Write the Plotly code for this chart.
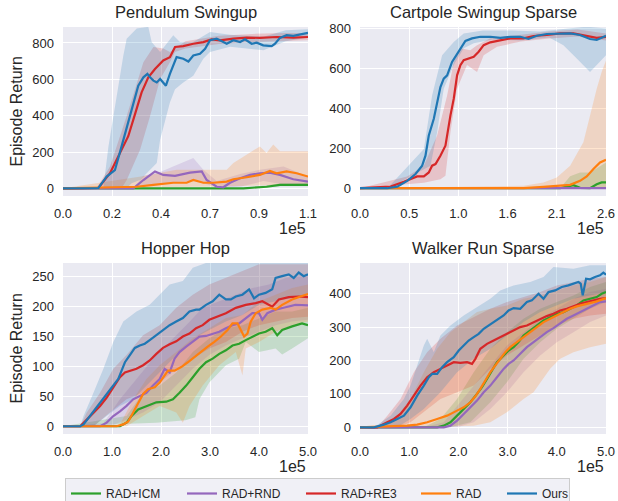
import plotly.graph_objects as go

# ---------------- data (x in units of 1e5 environment steps) ----------------
series_names = ["RAD+ICM", "RAD+RND", "RAD+RE3", "RAD", "Ours"]
series_colors = ["#2ca02c", "#9467bd", "#d62728", "#ff7f0e", "#1f77b4"]
band_colors = ["rgba(44,160,44,0.2)", "rgba(148,103,189,0.2)", "rgba(214,39,40,0.2)",
               "rgba(255,127,14,0.2)", "rgba(31,119,180,0.2)"]

panel_titles = ["Pendulum Swingup", "Cartpole Swingup Sparse", "Hopper Hop", "Walker Run Sparse"]

# tick labels
p1_xticks = [0, 0.22, 0.44, 0.66, 0.88, 1.1]
p1_xtext = ["0.0", "0.2", "0.4", "0.7", "0.9", "1.1"]
p2_xticks = [0, 0.52, 1.04, 1.56, 2.08, 2.6]
p2_xtext = ["0.0", "0.5", "1.0", "1.6", "2.1", "2.6"]
p34_xticks = [0, 1, 2, 3, 4, 5]
p34_xtext = ["0.0", "1.0", "2.0", "3.0", "4.0", "5.0"]
p1_yticks = [0, 200, 400, 600, 800]
p2_yticks = [0, 200, 400, 600, 800]
p3_yticks = [0, 50, 100, 150, 200, 250]
p4_yticks = [0, 100, 200, 300, 400]

# ---- Pendulum Swingup ----
pend_icm_x = [0, 0.81, 0.914, 0.974, 1.1]
pend_icm_y = [0, 0, 9, 19, 19]
pend_icm_hi_x = [0, 0.81, 0.914, 0.974, 1.1]
pend_icm_hi_y = [0, 4, 17, 27, 28]
pend_icm_lo_x = [0, 0.81, 0.914, 0.974, 1.1]
pend_icm_lo_y = [0, 0, 3, 12, 12]

pend_rnd_x = [0, 0.316, 0.361, 0.413, 0.450, 0.503, 0.570, 0.623, 0.645, 0.690, 0.720, 0.750, 0.795, 0.840, 0.884, 0.929, 0.974, 1.034, 1.1]
pend_rnd_y = [0, 0, 46, 93, 74, 69, 87, 93, 46, 9, 6, 31, 56, 74, 83, 87, 74, 50, 37]
pend_rnd_hi_x = [0, 0.316, 0.361, 0.436, 0.585, 0.630, 0.690, 0.8, 0.884, 0.99, 1.1]
pend_rnd_hi_y = [0, 0, 70, 90, 167, 102, 40, 80, 102, 120, 65]
pend_rnd_lo_x = [0, 0.35, 0.5, 0.6, 0.7, 0.8, 0.9, 1.0, 1.1]
pend_rnd_lo_y = [0, 10, 35, 40, 0, 10, 40, 20, 15]

pend_re3_x = [0, 0.159, 0.211, 0.263, 0.293, 0.323, 0.353, 0.383, 0.413, 0.450, 0.480, 0.503, 0.540, 0.585, 0.630, 0.667, 0.705, 0.765, 0.825, 0.884, 0.959, 1.034, 1.1]
pend_re3_y = [0, 2, 83, 213, 287, 407, 528, 611, 657, 704, 722, 778, 783, 796, 805, 820, 815, 824, 830, 828, 833, 830, 833]
pend_re3_hi_x = [0, 0.150, 0.211, 0.286, 0.361, 0.406, 0.450, 0.480, 0.55, 0.7, 0.85, 1.0, 1.1]
pend_re3_hi_y = [0, 0, 120, 398, 694, 778, 770, 750, 810, 840, 850, 855, 855]
pend_re3_lo_x = [0, 0.263, 0.286, 0.346, 0.391, 0.436, 0.480, 0.503, 0.55, 0.7, 0.85, 1.0, 1.1]
pend_re3_lo_y = [0, 0, 46, 213, 398, 602, 694, 750, 770, 795, 805, 810, 815]

pend_rad_x = [0, 0.331, 0.406, 0.436, 0.495, 0.555, 0.585, 0.630, 0.675, 0.735, 0.765, 0.825, 0.884, 0.929, 0.959, 1.004, 1.049, 1.1]
pend_rad_y = [0, 9, 19, 24, 31, 31, 46, 31, 31, 37, 50, 61, 74, 96, 83, 93, 83, 65]
pend_rad_hi_x = [0, 0.35, 0.510, 0.735, 0.765, 0.884, 0.914, 0.944, 0.974, 1.1]
pend_rad_hi_y = [0, 65, 102, 102, 139, 231, 195, 241, 204, 204]
pend_rad_lo_x = [0, 0.5, 0.7, 0.85, 1.0, 1.1]
pend_rad_lo_y = [0, 5, 10, 15, 20, 20]

pend_ours_x = [0, 0.159, 0.196, 0.233, 0.263, 0.293, 0.316, 0.338, 0.361, 0.379, 0.391, 0.406, 0.421, 0.436, 0.462, 0.480, 0.510, 0.540, 0.563, 0.585, 0.615, 0.638, 0.660, 0.690, 0.720, 0.735, 0.765, 0.795, 0.817, 0.847, 0.870, 0.899, 0.937, 0.952, 0.974, 1.004, 1.034, 1.064, 1.1]
pend_ours_y = [0, 2, 65, 100, 231, 361, 472, 565, 611, 630, 611, 593, 583, 602, 565, 630, 722, 713, 698, 731, 741, 768, 815, 824, 805, 796, 815, 805, 820, 796, 802, 787, 783, 796, 828, 843, 839, 848, 856]
pend_ours_hi_x = [0, 0.181, 0.204, 0.271, 0.286, 0.331, 0.383, 0.398, 0.436, 0.495, 0.525, 0.585, 0.660, 0.75, 0.9, 1.0, 1.1]
pend_ours_hi_y = [0, 0, 231, 731, 824, 880, 889, 805, 750, 843, 805, 805, 860, 845, 835, 870, 875]
pend_ours_lo_x = [0, 0.286, 0.308, 0.346, 0.421, 0.436, 0.480, 0.503, 0.540, 0.585, 0.630, 0.660, 0.75, 0.9, 1.0, 1.1]
pend_ours_lo_y = [0, 0, 28, 46, 139, 268, 472, 546, 583, 620, 713, 750, 780, 760, 810, 830]

# ---- Cartpole Swingup Sparse ----
cart_icm_x = [0, 2.115, 2.185, 2.256, 2.326, 2.431, 2.502, 2.554, 2.6]
cart_icm_y = [0, 0, 8, 15, 2, 0, 20, 29, 29]
cart_icm_hi_x = [0, 2.115, 2.221, 2.326, 2.431, 2.502, 2.6]
cart_icm_hi_y = [0, 0, 60, 79, 79, 100, 129]
cart_icm_lo_x = [0, 2.6]
cart_icm_lo_y = [0, 0]

cart_rnd_x = [0, 1.3, 2.6]
cart_rnd_y = [0, 0, 0]
cart_rnd_hi_x = [0, 2.6]
cart_rnd_hi_y = [0, 0]
cart_rnd_lo_x = [0, 2.6]
cart_rnd_lo_y = [0, 0]

cart_re3_x = [0, 0.323, 0.464, 0.534, 0.604, 0.675, 0.727, 0.762, 0.798, 0.850, 0.903, 0.956, 0.991, 1.026, 1.061, 1.096, 1.149, 1.202, 1.254, 1.307, 1.377, 1.483, 1.588, 1.729, 1.834, 1.975, 2.115, 2.256, 2.396, 2.502, 2.6]
cart_re3_y = [0, 8, 32, 45, 59, 59, 79, 113, 121, 163, 213, 365, 449, 566, 617, 642, 650, 659, 684, 717, 731, 743, 751, 751, 763, 768, 776, 776, 764, 754, 759]
cart_re3_hi_x = [0, 0.499, 0.675, 0.815, 0.921, 0.991, 1.061, 1.166, 1.237, 1.377, 1.6, 2.0, 2.3, 2.6]
cart_re3_hi_y = [0, 59, 113, 264, 465, 633, 701, 692, 717, 751, 765, 785, 795, 775]
cart_re3_lo_x = [0, 0.675, 0.850, 0.903, 0.956, 1.026, 1.131, 1.237, 1.307, 1.448, 1.7, 2.0, 2.3, 2.6]
cart_re3_lo_y = [0, 28, 45, 62, 280, 499, 617, 583, 667, 709, 735, 750, 760, 740]

cart_rad_x = [0, 1.729, 1.939, 2.115, 2.221, 2.326, 2.396, 2.467, 2.537, 2.6]
cart_rad_y = [0, 0, 7, 12, 17, 37, 59, 96, 129, 143]
cart_rad_hi_x = [0, 1.729, 1.939, 2.080, 2.221, 2.361, 2.431, 2.502, 2.554, 2.6]
cart_rad_hi_y = [0, 12, 29, 54, 113, 230, 365, 499, 583, 640]
cart_rad_lo_x = [0, 2.6]
cart_rad_lo_y = [0, 0]

cart_ours_x = [0, 0.288, 0.394, 0.499, 0.587, 0.657, 0.692, 0.727, 0.780, 0.815, 0.850, 0.885, 0.921, 0.973, 1.008, 1.061, 1.114, 1.184, 1.272, 1.377, 1.483, 1.588, 1.694, 1.781, 1.869, 1.975, 2.080, 2.221, 2.326, 2.431, 2.502, 2.6]
cart_ours_y = [0, 0, 8, 37, 71, 113, 163, 264, 348, 432, 507, 549, 566, 633, 659, 701, 738, 751, 759, 759, 754, 759, 759, 748, 764, 773, 773, 776, 768, 748, 743, 764]
cart_ours_hi_x = [0, 0.3, 0.675, 0.762, 0.868, 0.991, 1.096, 1.3, 1.6, 1.9, 2.2, 2.4, 2.6]
cart_ours_hi_y = [0, 5, 196, 465, 667, 733, 775, 790, 790, 785, 800, 810, 800]
cart_ours_lo_x = [0, 0.3, 0.745, 0.815, 0.885, 0.991, 1.096, 1.202, 1.4, 1.7, 2.0, 2.150, 2.291, 2.431, 2.502, 2.6]
cart_ours_lo_y = [0, 0, 113, 281, 499, 617, 701, 726, 745, 740, 755, 716, 650, 583, 617, 667]

# ---- Hopper Hop ----
hop_icm_x = [0, 1.162, 1.297, 1.399, 1.534, 1.703, 1.905, 2.108, 2.243, 2.378, 2.514, 2.649, 2.784, 2.919, 3.054, 3.189, 3.324, 3.459, 3.595, 3.730, 3.865, 4.000, 4.135, 4.270, 4.372, 4.473, 4.676, 4.878, 5.0]
hop_icm_y = [0, 0, 6, 17, 28, 34, 40, 41, 45, 56, 68, 82, 96, 107, 113, 121, 127, 135, 138, 144, 150, 155, 158, 164, 152, 161, 167, 172, 169]
hop_icm_hi_x = [0, 1.297, 1.635, 1.973, 2.311, 2.649, 2.986, 3.324, 3.662, 4.000, 4.338, 4.676, 5.0]
hop_icm_hi_y = [0, 17, 56, 68, 90, 124, 147, 164, 169, 181, 192, 192, 198]
hop_icm_lo_x = [0, 1.9, 2.5, 2.7, 2.784, 2.986, 3.324, 3.595, 3.730, 4.000, 4.338, 4.473, 4.676, 5.0]
hop_icm_lo_y = [0, 6, 10, 15, 45, 73, 102, 113, 141, 124, 130, 120, 130, 147]

hop_rnd_x = [0, 0.757, 0.892, 1.027, 1.162, 1.297, 1.432, 1.568, 1.703, 1.838, 1.973, 2.074, 2.176, 2.277, 2.378, 2.514, 2.649, 2.784, 2.919, 3.054, 3.189, 3.324, 3.459, 3.595, 3.730, 3.865, 4.000, 4.068, 4.169, 4.338, 4.541, 4.743, 5.0]
hop_rnd_y = [0, 0, 6, 17, 25, 34, 45, 51, 56, 68, 79, 96, 90, 113, 124, 133, 141, 150, 151, 155, 158, 164, 169, 172, 181, 189, 189, 178, 189, 195, 199, 203, 202]
hop_rnd_hi_x = [0, 0.824, 1.162, 1.500, 1.838, 2.176, 2.514, 2.851, 3.189, 3.527, 3.865, 4.203, 4.541, 5.0]
hop_rnd_hi_y = [0, 5, 45, 79, 113, 141, 169, 198, 209, 220, 231, 237, 248, 254]
hop_rnd_lo_x = [0, 0.959, 1.297, 1.635, 1.973, 2.311, 2.649, 2.986, 3.324, 3.662, 4.000, 4.338, 4.676, 5.0]
hop_rnd_lo_y = [0, 0, 11, 23, 40, 68, 96, 119, 135, 147, 158, 169, 175, 178]

hop_re3_x = [0, 0.351, 0.486, 0.622, 0.757, 0.892, 1.027, 1.162, 1.264, 1.365, 1.500, 1.635, 1.770, 1.905, 2.041, 2.176, 2.311, 2.446, 2.581, 2.716, 2.851, 2.986, 3.122, 3.324, 3.527, 3.730, 3.932, 4.068, 4.270, 4.405, 4.608, 4.811, 5.0]
hop_re3_y = [0, 0, 11, 23, 34, 48, 65, 82, 90, 93, 96, 102, 110, 121, 131, 137, 142, 150, 155, 164, 169, 178, 182, 189, 198, 203, 206, 209, 200, 212, 216, 217, 216]
hop_re3_hi_x = [0, 0.351, 0.486, 0.757, 1.027, 1.297, 1.635, 1.973, 2.311, 2.649, 2.986, 3.324, 3.662, 4.000, 5.0]
hop_re3_hi_y = [0, 0, 23, 56, 96, 119, 152, 169, 198, 220, 237, 248, 260, 271, 271]
hop_re3_lo_x = [0, 0.622, 0.959, 1.297, 1.635, 1.973, 2.311, 2.649, 2.986, 3.324, 3.662, 4.000, 4.338, 4.676, 5.0]
hop_re3_lo_y = [0, 0, 23, 45, 56, 73, 96, 113, 130, 141, 158, 169, 175, 181, 183]

hop_rad_x = [0, 1.095, 1.230, 1.331, 1.432, 1.534, 1.635, 1.736, 1.872, 1.973, 2.074, 2.142, 2.277, 2.412, 2.547, 2.682, 2.818, 2.953, 3.088, 3.223, 3.358, 3.459, 3.561, 3.628, 3.696, 3.764, 3.831, 3.932, 4.068, 4.236, 4.338, 4.473, 4.676, 4.845, 5.0]
hop_rad_y = [0, 0, 3, 8, 23, 40, 54, 62, 65, 73, 85, 93, 93, 99, 107, 116, 124, 133, 141, 150, 161, 172, 172, 161, 150, 155, 175, 189, 195, 198, 195, 203, 212, 217, 221]
hop_rad_hi_x = [0, 1.162, 1.432, 1.703, 1.973, 2.311, 2.649, 2.986, 3.324, 3.662, 4.000, 4.338, 4.676, 5.0]
hop_rad_hi_y = [0, 3, 45, 79, 102, 124, 147, 164, 181, 186, 209, 220, 231, 237]
hop_rad_lo_x = [0, 1.297, 1.635, 1.973, 2.311, 2.446, 2.581, 2.851, 3.189, 3.527, 3.662, 3.730, 4.000, 4.338, 4.676, 5.0]
hop_rad_lo_y = [0, 0, 17, 34, 23, 6, 34, 68, 102, 124, 85, 130, 141, 158, 169, 175]

hop_ours_x = [0, 0.351, 0.419, 0.520, 0.622, 0.757, 0.892, 1.027, 1.128, 1.196, 1.264, 1.365, 1.466, 1.568, 1.669, 1.770, 1.905, 2.041, 2.176, 2.311, 2.446, 2.581, 2.716, 2.784, 2.919, 3.054, 3.189, 3.324, 3.426, 3.527, 3.662, 3.797, 3.899, 4.000, 4.135, 4.270, 4.338, 4.473, 4.608, 4.709, 4.811, 4.912, 5.0]
hop_ours_y = [0, 0, 3, 14, 25, 40, 54, 68, 79, 93, 107, 119, 131, 135, 138, 144, 152, 161, 169, 175, 181, 192, 195, 195, 203, 209, 220, 212, 212, 217, 220, 229, 214, 220, 223, 229, 248, 251, 254, 248, 257, 251, 254]
hop_ours_hi_x = [0, 0.351, 0.419, 0.622, 0.824, 1.027, 1.230, 1.500, 1.770, 1.973, 2.176, 2.446, 2.649, 2.986, 5.0]
hop_ours_hi_y = [0, 0, 17, 56, 96, 141, 175, 192, 203, 220, 237, 243, 265, 275, 280]
hop_ours_lo_x = [0, 0.622, 0.892, 1.162, 1.432, 1.703, 1.973, 2.243, 2.514, 2.784, 3.054, 3.324, 3.662, 4.000, 4.338, 4.676, 5.0]
hop_ours_lo_y = [0, 0, 17, 34, 45, 68, 90, 113, 135, 152, 164, 175, 186, 203, 209, 214, 220]

# ---- Walker Run Sparse ----
walk_icm_x = [0, 1.568, 1.703, 1.838, 1.973, 2.108, 2.243, 2.378, 2.480, 2.581, 2.682, 2.784, 2.919, 3.020, 3.122, 3.223, 3.324, 3.459, 3.595, 3.730, 3.865, 4.000, 4.135, 4.270, 4.405, 4.541, 4.676, 4.811, 4.912, 5.0]
walk_icm_y = [0, 0, 5, 15, 35, 55, 75, 100, 120, 145, 170, 195, 215, 230, 240, 255, 275, 290, 305, 320, 330, 340, 345, 355, 365, 380, 385, 390, 400, 405]
walk_icm_hi_x = [0, 1.297, 1.635, 1.973, 2.311, 2.649, 2.986, 3.324, 3.662, 4.000, 4.338, 4.676, 5.0]
walk_icm_hi_y = [0, 0, 25, 85, 165, 235, 285, 325, 355, 375, 395, 420, 435]
walk_icm_lo_x = [0, 1.838, 2.243, 2.649, 2.986, 3.324, 3.662, 4.000, 4.338, 4.676, 5.0]
walk_icm_lo_y = [0, 0, 15, 75, 135, 205, 255, 295, 325, 355, 375]

walk_rnd_x = [0, 1.703, 1.838, 1.973, 2.108, 2.243, 2.378, 2.514, 2.649, 2.784, 2.919, 3.020, 3.122, 3.257, 3.392, 3.527, 3.662, 3.797, 3.932, 4.068, 4.203, 4.338, 4.473, 4.608, 4.743, 4.878, 5.0]
walk_rnd_y = [0, 0, 5, 20, 40, 60, 80, 105, 125, 150, 175, 190, 200, 220, 240, 255, 270, 285, 297, 310, 325, 335, 345, 355, 365, 375, 377]
walk_rnd_hi_x = [0, 1.297, 1.703, 1.973, 2.311, 2.649, 2.986, 3.324, 3.662, 4.000, 4.338, 4.676, 5.0]
walk_rnd_hi_y = [0, 0, 15, 65, 125, 185, 245, 285, 325, 355, 385, 405, 415]
walk_rnd_lo_x = [0, 1.973, 2.311, 2.649, 2.986, 3.324, 3.662, 4.000, 4.338, 4.676, 5.0]
walk_rnd_lo_y = [0, 0, 15, 55, 105, 165, 215, 255, 285, 315, 335]

walk_re3_x = [0, 0.351, 0.554, 0.689, 0.824, 0.959, 1.095, 1.230, 1.365, 1.500, 1.635, 1.770, 1.905, 2.041, 2.176, 2.277, 2.345, 2.446, 2.581, 2.716, 2.851, 2.986, 3.122, 3.257, 3.392, 3.527, 3.662, 3.797, 3.932, 4.068, 4.203, 4.338, 4.473, 4.608, 4.743, 4.878, 5.0]
walk_re3_y = [0, 0, 15, 25, 40, 65, 95, 125, 150, 165, 175, 185, 195, 193, 195, 190, 205, 235, 250, 260, 270, 280, 290, 300, 305, 315, 325, 333, 340, 350, 355, 363, 370, 375, 380, 385, 387]
walk_re3_hi_x = [0, 0.351, 0.554, 0.824, 1.095, 1.365, 1.635, 1.973, 2.311, 2.649, 2.986, 3.324, 3.662, 4.000, 4.338, 4.676, 5.0]
walk_re3_hi_y = [0, 0, 35, 85, 165, 225, 265, 305, 330, 355, 375, 390, 405, 425, 435, 445, 450]
walk_re3_lo_x = [0, 0.757, 1.027, 1.297, 1.635, 1.973, 2.311, 2.649, 2.986, 3.324, 3.662, 4.000, 4.338, 4.676, 5.0]
walk_re3_lo_y = [0, 0, 15, 45, 85, 105, 125, 175, 215, 245, 275, 305, 325, 335, 340]

walk_rad_x = [0, 0.622, 0.959, 1.162, 1.365, 1.568, 1.770, 1.973, 2.108, 2.243, 2.345, 2.446, 2.547, 2.649, 2.750, 2.851, 2.953, 3.054, 3.189, 3.324, 3.459, 3.595, 3.730, 3.865, 4.000, 4.135, 4.270, 4.405, 4.541, 4.676, 4.811, 5.0]
walk_rad_y = [0, 2, 5, 8, 15, 25, 35, 50, 60, 75, 93, 115, 140, 165, 185, 205, 225, 240, 255, 270, 285, 300, 315, 325, 335, 345, 355, 362, 367, 372, 377, 387]
walk_rad_hi_x = [0, 0.486, 0.757, 1.027, 1.297, 1.568, 1.838, 2.108, 2.378, 2.649, 2.986, 3.324, 3.662, 4.000, 4.338, 4.676, 5.0]
walk_rad_hi_y = [0, 0, 35, 85, 165, 235, 285, 315, 345, 355, 365, 385, 395, 410, 425, 435, 450]
walk_rad_lo_x = [0, 1.297, 2.311, 2.649, 2.986, 3.324, 3.527, 3.730, 3.865, 4.068, 4.338, 4.676, 5.0]
walk_rad_lo_y = [0, 0, 5, 15, 45, 85, 105, 145, 175, 205, 225, 240, 250]

walk_ours_x = [0, 0.284, 0.486, 0.622, 0.757, 0.892, 1.027, 1.162, 1.297, 1.399, 1.466, 1.568, 1.669, 1.770, 1.905, 2.007, 2.108, 2.209, 2.311, 2.412, 2.514, 2.615, 2.716, 2.818, 2.919, 3.020, 3.122, 3.257, 3.392, 3.493, 3.628, 3.730, 3.831, 3.966, 4.101, 4.236, 4.338, 4.439, 4.486, 4.527, 4.595, 4.676, 4.777, 4.878, 4.946, 5.0]
walk_ours_y = [0, 0, 8, 15, 25, 35, 60, 95, 125, 150, 160, 160, 180, 195, 210, 230, 245, 260, 270, 280, 295, 305, 315, 325, 335, 350, 357, 355, 375, 380, 400, 385, 405, 410, 420, 425, 430, 435, 430, 395, 445, 443, 450, 455, 463, 457]
walk_ours_hi_x = [0, 0.284, 0.622, 0.892, 1.027, 1.162, 1.297, 1.365, 1.500, 1.635, 1.838, 2.108, 2.311, 2.649, 2.851, 3.122, 3.459, 3.730, 3.932, 4.338, 4.676, 5.0]
walk_ours_hi_y = [0, 0, 35, 85, 125, 185, 245, 265, 225, 275, 305, 335, 355, 385, 410, 425, 435, 450, 480, 475, 485, 485]
walk_ours_lo_x = [0, 0.757, 1.027, 1.297, 1.635, 1.973, 2.311, 2.649, 2.986, 3.324, 3.662, 4.000, 4.338, 4.676, 5.0]
walk_ours_lo_y = [0, 0, 25, 55, 105, 165, 205, 235, 275, 315, 345, 365, 385, 395, 405]

# ---------------- assemble ----------------
panels = [
    dict(title=panel_titles[0], xr=[0, 1.1], yr=[-42, 888], xt=p1_xticks, xtt=p1_xtext, yt=p1_yticks,
         series=[(pend_icm_x, pend_icm_y, pend_icm_lo_x, pend_icm_lo_y, pend_icm_hi_x, pend_icm_hi_y),
                 (pend_rnd_x, pend_rnd_y, pend_rnd_lo_x, pend_rnd_lo_y, pend_rnd_hi_x, pend_rnd_hi_y),
                 (pend_re3_x, pend_re3_y, pend_re3_lo_x, pend_re3_lo_y, pend_re3_hi_x, pend_re3_hi_y),
                 (pend_rad_x, pend_rad_y, pend_rad_lo_x, pend_rad_lo_y, pend_rad_hi_x, pend_rad_hi_y),
                 (pend_ours_x, pend_ours_y, pend_ours_lo_x, pend_ours_lo_y, pend_ours_hi_x, pend_ours_hi_y)]),
    dict(title=panel_titles[1], xr=[0, 2.6], yr=[-39, 808], xt=p2_xticks, xtt=p2_xtext, yt=p2_yticks,
         series=[(cart_icm_x, cart_icm_y, cart_icm_lo_x, cart_icm_lo_y, cart_icm_hi_x, cart_icm_hi_y),
                 (cart_rnd_x, cart_rnd_y, cart_rnd_lo_x, cart_rnd_lo_y, cart_rnd_hi_x, cart_rnd_hi_y),
                 (cart_re3_x, cart_re3_y, cart_re3_lo_x, cart_re3_lo_y, cart_re3_hi_x, cart_re3_hi_y),
                 (cart_rad_x, cart_rad_y, cart_rad_lo_x, cart_rad_lo_y, cart_rad_hi_x, cart_rad_hi_y),
                 (cart_ours_x, cart_ours_y, cart_ours_lo_x, cart_ours_lo_y, cart_ours_hi_x, cart_ours_hi_y)]),
    dict(title=panel_titles[2], xr=[0, 5], yr=[-13, 273], xt=p34_xticks, xtt=p34_xtext, yt=p3_yticks,
         series=[(hop_icm_x, hop_icm_y, hop_icm_lo_x, hop_icm_lo_y, hop_icm_hi_x, hop_icm_hi_y),
                 (hop_rnd_x, hop_rnd_y, hop_rnd_lo_x, hop_rnd_lo_y, hop_rnd_hi_x, hop_rnd_hi_y),
                 (hop_re3_x, hop_re3_y, hop_re3_lo_x, hop_re3_lo_y, hop_re3_hi_x, hop_re3_hi_y),
                 (hop_rad_x, hop_rad_y, hop_rad_lo_x, hop_rad_lo_y, hop_rad_hi_x, hop_rad_hi_y),
                 (hop_ours_x, hop_ours_y, hop_ours_lo_x, hop_ours_lo_y, hop_ours_hi_x, hop_ours_hi_y)]),
    dict(title=panel_titles[3], xr=[0, 5], yr=[-20, 492], xt=p34_xticks, xtt=p34_xtext, yt=p4_yticks,
         series=[(walk_icm_x, walk_icm_y, walk_icm_lo_x, walk_icm_lo_y, walk_icm_hi_x, walk_icm_hi_y),
                 (walk_rnd_x, walk_rnd_y, walk_rnd_lo_x, walk_rnd_lo_y, walk_rnd_hi_x, walk_rnd_hi_y),
                 (walk_re3_x, walk_re3_y, walk_re3_lo_x, walk_re3_lo_y, walk_re3_hi_x, walk_re3_hi_y),
                 (walk_rad_x, walk_rad_y, walk_rad_lo_x, walk_rad_lo_y, walk_rad_hi_x, walk_rad_hi_y),
                 (walk_ours_x, walk_ours_y, walk_ours_lo_x, walk_ours_lo_y, walk_ours_hi_x, walk_ours_hi_y)]),
]

W, H = 618, 501
x_domains = [[63 / W, 308 / W], [360 / W, 606 / W]]
y_domains = [[1 - 196 / H, 1 - 27 / H], [1 - 434 / H, 1 - 263 / H]]
legend_widths = [71, 74, 70, 41, 22]

TXT = "#262626"
FONT = "Liberation Sans, Arial, sans-serif"

fig = go.Figure()
layout = dict(
    width=W, height=H,
    margin=dict(l=0, r=0, t=0, b=0, pad=0, autoexpand=False),
    paper_bgcolor="white", plot_bgcolor="#EAEAF2",
    font=dict(family=FONT, size=13, color=TXT),
    showlegend=True,
    legend=dict(orientation="h", x=65 / W, xanchor="left", y=1 - 478 / H, yanchor="top",
                bgcolor="rgba(238,238,245,0.9)", bordercolor="#CCCCCC", borderwidth=1,
                font=dict(family=FONT, size=12, color=TXT), tracegroupgap=0, itemwidth=30),
    annotations=[],
)

for i, p in enumerate(panels):
    r, c = divmod(i, 2)
    xa = "xaxis" if i == 0 else f"xaxis{i + 1}"
    ya = "yaxis" if i == 0 else f"yaxis{i + 1}"
    xref = "x" if i == 0 else f"x{i + 1}"
    yref = "y" if i == 0 else f"y{i + 1}"
    layout[xa] = dict(domain=x_domains[c], anchor=yref, range=p["xr"], tickvals=p["xt"], ticktext=p["xtt"],
                      showgrid=True, gridcolor="white", gridwidth=1, zeroline=False, showline=False,
                      ticks="", ticklabelstandoff=8, tickfont=dict(size=13, color=TXT), fixedrange=True)
    layout[ya] = dict(domain=y_domains[r], anchor=xref, range=p["yr"], tickvals=p["yt"],
                      showgrid=True, gridcolor="white", gridwidth=1, zeroline=False, showline=False,
                      ticks="", ticklabelstandoff=8, tickfont=dict(size=13, color=TXT), fixedrange=True)
    for k, (mx, my, lx, ly, hx, hy) in enumerate(p["series"]):
        fig.add_trace(go.Scatter(x=list(lx) + list(hx)[::-1], y=list(ly) + list(hy)[::-1],
                                 fill="toself", fillcolor=band_colors[k], line=dict(width=0),
                                 mode="lines", hoverinfo="skip", showlegend=False,
                                 xaxis=xref, yaxis=yref))
    for k, (mx, my, lx, ly, hx, hy) in enumerate(p["series"]):
        fig.add_trace(go.Scatter(x=mx, y=my, mode="lines", name=series_names[k],
                                 line=dict(color=series_colors[k], width=2.2),
                                 showlegend=(i == 0), legendwidth=legend_widths[k],
                                 xaxis=xref, yaxis=yref))
    # title
    layout["annotations"].append(dict(text=p["title"], xref="paper", yref="paper",
                                      x=sum(x_domains[c]) / 2, y=y_domains[r][1] + 15 / H,
                                      xanchor="center", yanchor="middle", showarrow=False,
                                      font=dict(size=16.5, color=TXT)))
    # offset text
    layout["annotations"].append(dict(text="1e5", xref="paper", yref="paper",
                                      x=x_domains[c][1], y=y_domains[r][0] - 32 / H,
                                      xanchor="right", yanchor="middle", showarrow=False,
                                      font=dict(size=16, color=TXT)))
    if c == 0:
        layout["annotations"].append(dict(text="Episode Return", xref="paper", yref="paper",
                                          x=16 / W, y=sum(y_domains[r]) / 2, textangle=-90,
                                          xanchor="center", yanchor="middle", showarrow=False,
                                          font=dict(size=16, color=TXT)))

fig.update_layout(**layout)
fig.write_html("out.html", config={"displayModeBar": False},
               post_script="document.body.style.margin='0px';document.body.style.overflow='hidden';")
